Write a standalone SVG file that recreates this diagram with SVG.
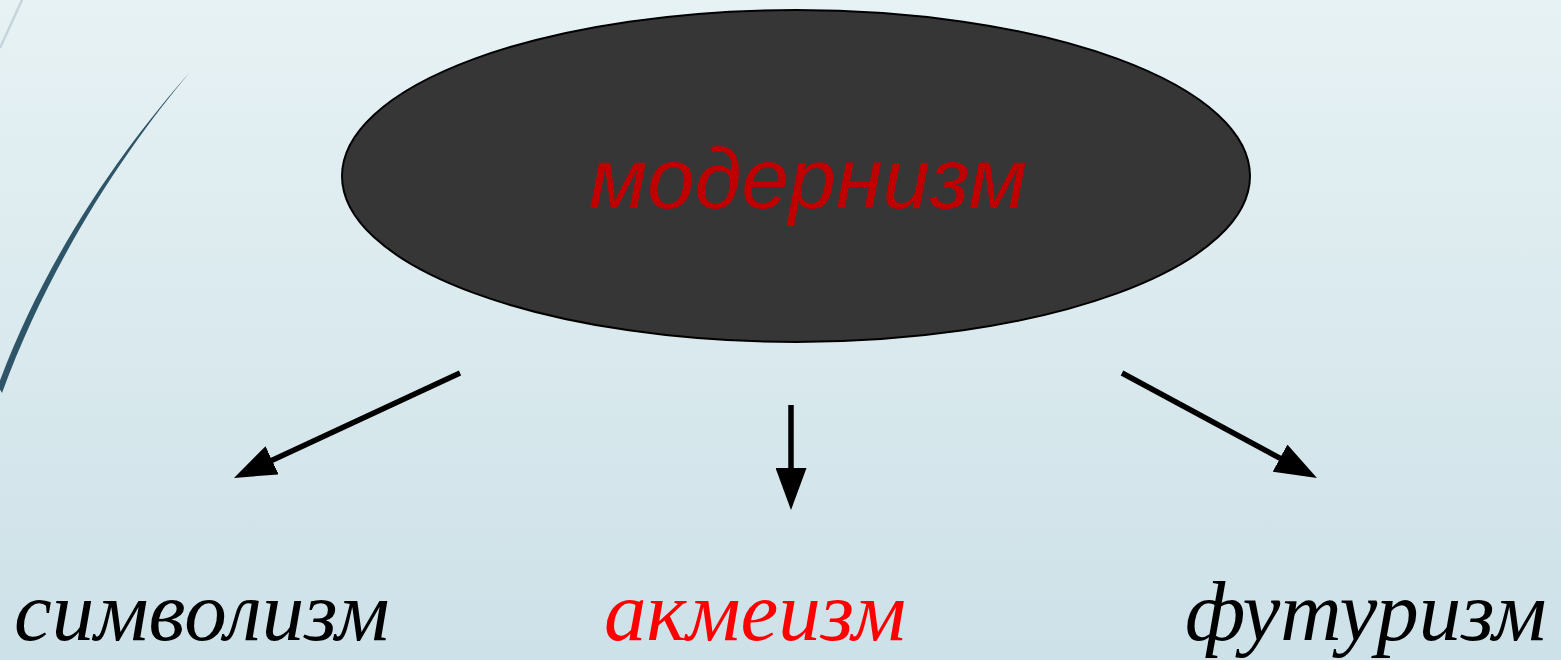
<svg xmlns="http://www.w3.org/2000/svg" width="1561" height="660" viewBox="0 0 1561 660">
<style>
.lbl{font-family:"Liberation Serif","Times New Roman",serif;font-style:italic;font-size:85px}
.conn{stroke:#000;stroke-width:5.5;fill:none}
</style>
<defs>
<linearGradient id="bg" x1="0" y1="0" x2="0" y2="1">
<stop offset="0" stop-color="#e7f2f4"/>
<stop offset="1" stop-color="#cde1e8"/>
</linearGradient>
<marker id="ah" viewBox="0 0 42 31" refX="10" refY="15.5" markerWidth="42" markerHeight="31" orient="auto" markerUnits="userSpaceOnUse">
<path d="M0,0 L42,15.5 L0,31 z" fill="#000"/>
</marker>
</defs>
<rect width="1561" height="660" fill="url(#bg)"/>
<path d="M22,0 L0,48" stroke="#c5d5db" stroke-width="2.5" fill="none"/>
<path d="M190,72 C129,141 47,252 -2,386 L2,393 C52,256 131,142 190,72 z" fill="#2e5468"/>
<g id="modernism">
<ellipse cx="796" cy="176" rx="454" ry="166" fill="#363636" stroke="#000" stroke-width="2"/>
<text x="808" y="208" text-anchor="middle" font-family="Liberation Sans, Arial, sans-serif" font-style="italic" font-size="85" fill="#c00000">модернизм</text>
</g>
<g id="connectors">
<line class="conn" x1="460" y1="373" x2="263" y2="464.5" marker-end="url(#ah)"/>
<line class="conn" x1="791" y1="405" x2="791" y2="478" marker-end="url(#ah)"/>
<line class="conn" x1="1122" y1="373" x2="1288.8" y2="462.9" marker-end="url(#ah)"/>
</g>
<g id="symbolism"><text class="lbl" x="14" y="640" fill="#000">символизм</text></g>
<g id="acmeism"><text class="lbl" x="604" y="640" fill="#ff0000">акмеизм</text></g>
<g id="futurism"><text class="lbl" x="1185" y="640" fill="#000">футуризм</text></g>
</svg>
